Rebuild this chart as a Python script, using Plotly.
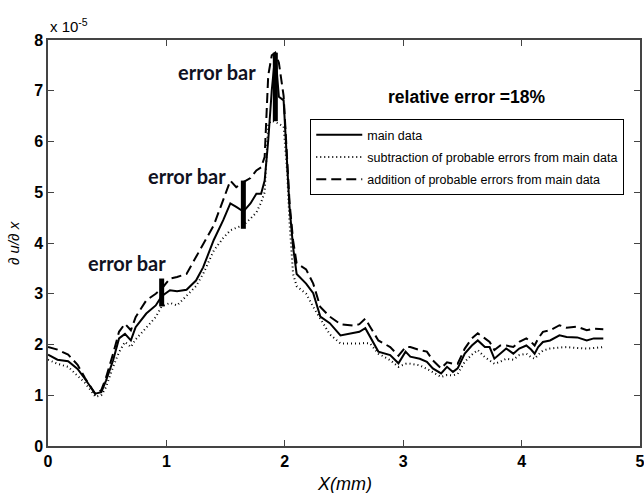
import plotly.graph_objects as go

# x positions (mm)
x_mm = [0.00, 0.08, 0.17, 0.25, 0.31, 0.36, 0.40, 0.45, 0.49, 0.55, 0.60, 0.65, 0.70, 0.74, 0.83, 0.91,
        0.96, 1.03, 1.09, 1.17, 1.25, 1.31, 1.40, 1.48, 1.54, 1.59, 1.65, 1.71, 1.76, 1.80, 1.83, 1.86,
        1.89, 1.92, 1.95, 1.99, 2.02, 2.04, 2.07, 2.10, 2.18, 2.24, 2.30, 2.38, 2.47, 2.58, 2.63, 2.68,
        2.72, 2.79, 2.89, 2.96, 3.02, 3.06, 3.14, 3.20, 3.25, 3.32, 3.37, 3.42, 3.46, 3.52, 3.58, 3.63,
        3.69, 3.73, 3.77, 3.82, 3.87, 3.93, 3.98, 4.04, 4.08, 4.11, 4.14, 4.18, 4.24, 4.32, 4.38, 4.47,
        4.55, 4.61, 4.69]

# values in units of 1e-5
main_data = [1.80, 1.70, 1.67, 1.52, 1.33, 1.15, 1.03, 1.06, 1.29, 1.69, 2.12, 2.21, 2.08, 2.34, 2.61, 2.77,
             2.95, 3.07, 3.05, 3.08, 3.26, 3.52, 4.06, 4.45, 4.78, 4.71, 4.62, 4.78, 4.97, 4.97, 5.23, 6.02,
             7.01, 7.73, 6.88, 6.81, 5.69, 4.71, 3.92, 3.39, 3.20, 3.01, 2.55, 2.42, 2.18, 2.22, 2.25, 2.32,
             2.15, 1.86, 1.79, 1.63, 1.86, 1.76, 1.72, 1.66, 1.53, 1.43, 1.56, 1.46, 1.53, 1.82, 1.98, 2.08,
             1.95, 1.95, 1.72, 1.82, 1.92, 1.82, 1.92, 1.98, 1.90, 1.82, 1.95, 2.05, 2.08, 2.18, 2.15, 2.14,
             2.08, 2.12, 2.12]

lower_data = [1.70, 1.62, 1.56, 1.39, 1.25, 1.10, 0.97, 1.00, 1.16, 1.56, 1.85, 2.05, 1.95, 2.10, 2.34, 2.54,
              2.75, 2.82, 2.77, 2.95, 3.15, 3.39, 3.85, 4.10, 4.25, 4.30, 4.35, 4.48, 4.60, 4.80, 5.00, 6.35,
              6.41, 6.38, 6.35, 6.29, 5.40, 4.40, 3.39, 3.15, 3.00, 2.74, 2.50, 2.20, 2.02, 2.01, 2.02, 2.03,
              2.02, 1.82, 1.69, 1.56, 1.62, 1.62, 1.59, 1.52, 1.46, 1.36, 1.40, 1.39, 1.42, 1.66, 1.80, 1.89,
              1.75, 1.68, 1.62, 1.66, 1.72, 1.70, 1.79, 1.82, 1.75, 1.72, 1.80, 1.88, 1.92, 1.94, 1.95, 1.93,
              1.92, 1.93, 1.95]

upper_data = [1.95, 1.90, 1.80, 1.60, 1.35, 1.16, 1.02, 1.10, 1.35, 1.82, 2.25, 2.41, 2.28, 2.54, 2.87, 3.00,
              3.10, 3.30, 3.33, 3.39, 3.72, 3.95, 4.35, 4.85, 5.23, 5.10, 5.20, 5.28, 5.43, 5.49, 5.70, 7.30,
              7.70, 7.75, 7.55, 6.90, 5.60, 4.80, 4.05, 3.60, 3.48, 3.20, 2.74, 2.55, 2.40, 2.37, 2.40, 2.51,
              2.35, 2.08, 1.95, 1.78, 1.95, 1.95, 1.89, 1.86, 1.69, 1.53, 1.65, 1.62, 1.62, 1.92, 2.12, 2.22,
              2.12, 2.05, 1.89, 1.98, 1.98, 1.95, 2.05, 2.12, 2.05, 1.98, 2.12, 2.25, 2.28, 2.38, 2.33, 2.35,
              2.28, 2.31, 2.30]

# error bars
errbar_x = [0.96, 1.65, 1.92]
errbar_low = [2.75, 4.28, 6.40]
errbar_high = [3.30, 5.23, 7.75]

x_ticks = [0, 1, 2, 3, 4, 5]
y_ticks = [0, 1, 2, 3, 4, 5, 6, 7, 8]

fig = go.Figure()

fig.add_trace(go.Scatter(x=x_mm, y=main_data, mode="lines", name="main data", legendgroup="a",
                         line=dict(color="black", width=2)))
fig.add_trace(go.Scatter(x=x_mm, y=lower_data, mode="lines", legendgroup="b",
                         name="subtraction of probable errors from main data",
                         line=dict(color="black", width=2, dash="1px,3px")))
fig.add_trace(go.Scatter(x=x_mm, y=upper_data, mode="lines", legendgroup="c",
                         name="addition of probable errors from main data",
                         line=dict(color="black", width=2, dash="10px,5px")))

ex, ey = [], []
for xv, lo, hi in zip(errbar_x, errbar_low, errbar_high):
    ex += [xv, xv, None]
    ey += [lo, hi, None]
fig.add_trace(go.Scatter(x=ex, y=ey, mode="lines", showlegend=False,
                         line=dict(color="black", width=5)))

ann_font = dict(family="Lato, Open Sans, sans-serif", size=20, color="#111122")
annotations = [
    dict(x=0.67, y=3.6, text="<b>error bar</b>", showarrow=False, xref="x", yref="y", font=ann_font),
    dict(x=1.17, y=5.33, text="<b>error bar</b>", showarrow=False, xref="x", yref="y", font=ann_font),
    dict(x=1.43, y=7.36, text="<b>error bar</b>", showarrow=False, xref="x", yref="y", font=ann_font),
    dict(x=3.54, y=6.87, text="<b>relative error =18%</b>", showarrow=False, xref="x", yref="y",
         font=dict(family="Liberation Sans, Arial, sans-serif", size=17.5, color="black")),
    dict(x=0, y=1, xref="paper", yref="paper", xanchor="left", yanchor="bottom", yshift=3,
         text="x 10<sup>-5</sup>", showarrow=False,
         font=dict(family="Liberation Sans, Arial, sans-serif", size=15, color="black")),
    dict(x=0.5, y=0, xref="paper", yref="paper", yanchor="middle", yshift=-38,
         text="<i>X(mm)</i>", showarrow=False,
         font=dict(family="Liberation Sans, Arial, sans-serif", size=18, color="black")),
    dict(x=0, y=0.5, xref="paper", yref="paper", xanchor="center", xshift=-35,
         text="<i>∂ u/∂ x</i>", textangle=-90, showarrow=False,
         font=dict(family="Liberation Sans, Arial, sans-serif", size=15, color="black")),
]

axis_common = dict(showgrid=False, zeroline=False, showline=True, linecolor="#444444", linewidth=1.5,
                   mirror="ticks", ticks="inside", ticklen=6, tickcolor="#444444", automargin=False,
                   ticklabeloverflow="allow",
                   tickfont=dict(family="Liberation Sans, Arial, sans-serif", size=16, color="black",
                                 weight="bold"))

fig.update_layout(
    width=644, height=493,
    margin=dict(l=48, r=4, t=40, b=47),
    paper_bgcolor="white", plot_bgcolor="white",
    xaxis=dict(range=[0, 5], tickvals=x_ticks, **axis_common),
    yaxis=dict(range=[0, 8], tickvals=y_ticks, **axis_common),
    legend=dict(x=0.443, y=0.805, xanchor="left", yanchor="top",
                bordercolor="black", borderwidth=1, bgcolor="white",
                font=dict(family="Liberation Sans, Arial, sans-serif", size=12.5, color="black"),
                tracegroupgap=3, itemwidth=46),
    annotations=annotations,
    showlegend=True,
)

fig.write_html("out.html", config={"displayModeBar": False},
               post_script="document.body.style.margin='0';document.body.style.overflow='hidden';")
